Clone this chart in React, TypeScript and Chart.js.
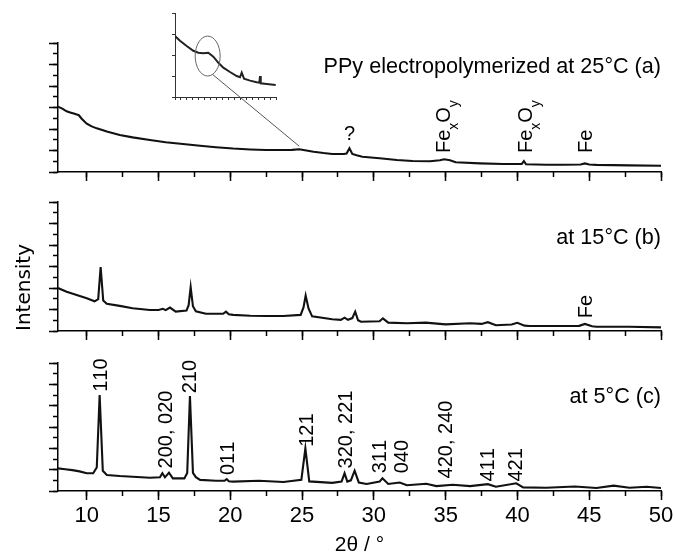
import React, { useEffect, useRef } from 'react';
import { Chart, registerables } from 'chart.js';

Chart.register(...registerables);

const W = 675;
const H = 558;
const SANS = '"Liberation Sans", Arial, Helvetica, sans-serif';

// ---------- axes ----------
const xMin = 8;
const xMax = 50;
const xMajorStep = 5;
const xMinorStep = 2.5;
const yMin = 0;
const yMax = 6;
const xTitle = '2θ / °';
const yTitle = 'Intensity';

// ---------- panel (a) : 25 °C ----------
const thetaA = [8.0, 8.3, 8.6, 8.9, 9.1, 9.3, 9.45, 9.65, 10.0, 10.35, 10.7, 11.4, 12.3, 13.2, 14.4, 15.5, 16.7, 17.9, 19.0, 20.2, 21.4, 22.5, 23.7, 24.3, 24.8, 25.3, 25.8, 26.5, 27.1, 27.9, 28.1, 28.3, 28.5, 28.8, 29.2, 30.4, 31.6, 32.7, 33.9, 34.6, 34.9, 35.3, 35.7, 37.4, 39.0, 40.3, 40.45, 40.6, 42.0, 43.2, 44.4, 44.7, 45.0, 45.5, 47.8, 50.0];
const intA = [3.04, 2.95, 2.82, 2.76, 2.72, 2.68, 2.64, 2.48, 2.25, 2.12, 2.03, 1.88, 1.72, 1.61, 1.49, 1.38, 1.30, 1.22, 1.15, 1.09, 1.05, 1.02, 1.02, 1.03, 1.06, 1.0, 0.94, 0.88, 0.84, 0.84, 0.86, 1.10, 0.84, 0.78, 0.71, 0.64, 0.56, 0.51, 0.50, 0.55, 0.59, 0.55, 0.45, 0.40, 0.37, 0.37, 0.51, 0.36, 0.34, 0.34, 0.35, 0.40, 0.35, 0.33, 0.31, 0.29];
const titleA = 'PPy electropolymerized at 25°C (a)';
const titleAInt = 4.9;
const peakTextA = ['?', 'Fe_xO_y', 'Fe_xO_y', 'Fe'];
const peakThetaA = [28.3, 34.82, 40.5, 44.7];
const peakIntA = [1.49, 0.88, 0.88, 0.88];
const peakRotA = [false, true, true, true];

// ---------- panel (b) : 15 °C ----------
const thetaB = [8.0, 8.6, 9.3, 10.0, 10.55, 10.8, 10.97, 11.15, 11.4, 12.3, 13.2, 14.4, 15.0, 15.3, 15.5, 15.8, 16.2, 16.95, 17.1, 17.24, 17.4, 17.6, 18.3, 19.5, 19.7, 19.9, 20.2, 21.4, 22.5, 23.7, 24.9, 25.1, 25.25, 25.45, 25.7, 27.1, 27.7, 27.96, 28.2, 28.5, 28.7, 28.9, 29.1, 30.4, 30.63, 31.0, 32.3, 33.6, 35.0, 36.7, 37.5, 37.94, 38.5, 39.6, 39.99, 40.5, 40.85, 43.2, 44.3, 44.7, 45.2, 45.5, 47.8, 50.0];
const intB = [2.0, 1.83, 1.68, 1.52, 1.38, 1.48, 2.97, 1.42, 1.27, 1.17, 1.06, 0.98, 0.98, 1.03, 0.97, 1.09, 0.90, 0.95, 1.2, 2.04, 1.15, 0.92, 0.80, 0.80, 0.90, 0.78, 0.75, 0.71, 0.70, 0.70, 0.75, 1.1, 1.65, 1.05, 0.68, 0.55, 0.52, 0.62, 0.52, 0.6, 0.9, 0.5, 0.43, 0.45, 0.59, 0.39, 0.36, 0.39, 0.31, 0.36, 0.33, 0.41, 0.27, 0.3, 0.38, 0.25, 0.23, 0.23, 0.24, 0.33, 0.22, 0.2, 0.2, 0.17];
const titleB = 'at 15°C (b)';
const titleBInt = 4.32;
const peakTextB = ['Fe'];
const peakThetaB = [44.7];
const peakIntB = [0.59];
const peakRotB = [true];

// ---------- panel (c) : 5 °C ----------
const thetaC = [8.0, 8.5, 9.0, 9.5, 10.0, 10.45, 10.7, 10.9, 11.12, 11.4, 12.3, 13.2, 14.4, 15.1, 15.27, 15.45, 15.73, 16.0, 16.8, 17.0, 17.19, 17.4, 17.6, 17.9, 19.0, 19.6, 19.75, 19.9, 20.2, 22.0, 23.7, 24.95, 25.23, 25.5, 27.1, 27.75, 27.96, 28.15, 28.4, 28.66, 28.95, 29.5, 30.4, 30.6, 31.0, 31.8, 32.3, 33.65, 34.35, 35.5, 36.7, 37.94, 38.5, 39.92, 40.4, 42.0, 44.0, 45.5, 46.7, 47.8, 49.0, 50.0];
const intC = [1.06, 1.02, 0.98, 0.92, 0.83, 0.83, 1.1, 4.5, 0.95, 0.75, 0.70, 0.67, 0.62, 0.64, 0.83, 0.64, 0.86, 0.59, 0.59, 0.85, 4.45, 0.85, 0.65, 0.52, 0.48, 0.48, 0.56, 0.46, 0.44, 0.48, 0.42, 0.52, 2.0, 0.45, 0.38, 0.44, 0.83, 0.44, 0.5, 0.95, 0.4, 0.33, 0.44, 0.6, 0.33, 0.4, 0.27, 0.34, 0.23, 0.29, 0.23, 0.32, 0.2, 0.36, 0.17, 0.15, 0.21, 0.14, 0.25, 0.15, 0.2, 0.14];
const titleC = 'at 5°C (c)';
const titleCInt = 4.42;
const peakTextC = ['110', '200, 020', '210', '011', '121', '320, 221', '311', '040', '420, 240', '411', '421'];
const peakThetaC = [10.9, 15.43, 17.1, 19.75, 25.23, 27.97, 30.33, 31.87, 34.93, 37.89, 39.8];
const peakIntC = [4.65, 1.06, 4.58, 0.75, 2.07, 1.06, 0.83, 0.83, 0.59, 0.44, 0.44];
const peakRotC = [true, true, true, true, true, true, true, true, true, true, true];

// ---------- inset (zoom of panel a) ----------
const insetThetaMin = 17;
const insetThetaMax = 34;
const insetIntMax = 4;
const insetTheta = [17.0, 17.84, 18.97, 20.08, 20.93, 21.77, 22.61, 23.45, 24.3, 25.13, 26.26, 27.38, 27.94, 28.23, 28.62, 29.63, 30.75, 31.2, 31.31, 31.43, 32.44, 33.95];
const insetInt = [2.90, 2.68, 2.43, 2.2, 2.11, 2.08, 2.11, 1.92, 1.63, 1.4, 1.19, 1.0, 0.94, 1.16, 0.87, 0.78, 0.7, 0.68, 1.0, 0.65, 0.62, 0.57];
const ellipseTheta = 22.5;
const ellipseInt = 1.95;
const ellipseHalfTheta = 2.1;
const ellipseHalfInt = 0.95;
const zoomTargetTheta = 24.8;
const zoomTargetInt = 1.2;

// ---------- layout (pixels) ----------
const PLOT_LEFT = 58;
const PLOT_RIGHT = 661;
const PANEL_A = { top: 43, bottom: 172 };
const PANEL_B = { top: 202, bottom: 331 };
const PANEL_C = { top: 363, bottom: 491 };
const INSET = { left: 175, right: 276, top: 13, bottom: 97 };
const LABEL_SIZE = 20;
const TITLE_SIZE = 21.6;

function drawRich(ctx: CanvasRenderingContext2D, text: string, x: number, y: number, size: number) {
  let cx = x;
  for (let i = 0; i < text.length; i++) {
    let ch = text[i];
    let sub = false;
    if (ch === '_' && i + 1 < text.length) {
      sub = true;
      ch = text[++i];
    }
    const s = sub ? Math.round(size * 0.68) : size;
    ctx.font = `${s}px ${SANS}`;
    ctx.textAlign = 'left';
    ctx.textBaseline = 'alphabetic';
    ctx.fillText(ch, cx, y + (sub ? size * 0.4 : 0));
    cx += ctx.measureText(ch).width;
  }
}

function annotations(title: string, titleInt: number, texts: string[], thetas: number[], ints: number[], rots: boolean[]) {
  return {
    id: 'annotations',
    afterDatasetsDraw(chart: any) {
      const { ctx, chartArea, scales } = chart;
      const sx = scales.x;
      const sy = scales.y;
      ctx.save();
      ctx.fillStyle = '#000';
      ctx.font = `${TITLE_SIZE}px ${SANS}`;
      ctx.textAlign = 'right';
      ctx.textBaseline = 'middle';
      ctx.fillText(title, chartArea.right, sy.getPixelForValue(titleInt));
      texts.forEach((t, i) => {
        const px = sx.getPixelForValue(thetas[i]);
        const py = sy.getPixelForValue(ints[i]);
        if (rots[i]) {
          ctx.save();
          ctx.translate(px, py);
          ctx.rotate(-Math.PI / 2);
          drawRich(ctx, t, 0, LABEL_SIZE * 0.36, LABEL_SIZE);
          ctx.restore();
        } else {
          ctx.font = `${LABEL_SIZE}px ${SANS}`;
          ctx.textAlign = 'center';
          ctx.textBaseline = 'alphabetic';
          ctx.fillText(t, px, py);
        }
      });
      ctx.restore();
    },
  };
}

function panelConfig(xs: number[], ys: number[], area: { top: number; bottom: number }, showX: boolean, showYTitle: boolean, plugin: any): any {
  return {
    type: 'line',
    data: {
      datasets: [
        {
          data: xs.map((x, i) => ({ x, y: ys[i] })),
          borderColor: '#111',
          borderWidth: 2.1,
          pointRadius: 0,
          tension: 0,
          fill: false,
        },
      ],
    },
    options: {
      animation: false,
      responsive: false,
      events: [],
      layout: { padding: { top: area.top, right: W - PLOT_RIGHT, bottom: 0, left: 0 } },
      plugins: { legend: { display: false }, tooltip: { enabled: false }, title: { display: false } },
      scales: {
        x: {
          type: 'linear',
          position: 'bottom',
          weight: 1,
          min: xMin,
          max: xMax,
          afterFit: (s: any) => {
            s.height = H - area.bottom;
            s.paddingLeft = 0;
            s.paddingRight = 0;
          },
          ticks: {
            stepSize: xMajorStep,
            includeBounds: false,
            display: showX,
            autoSkip: false,
            maxRotation: 0,
            padding: 3,
            color: '#000',
            font: { family: SANS, size: 22 },
          },
          grid: { drawOnChartArea: false, drawTicks: true, tickLength: 9, tickWidth: 1.5, tickColor: '#000', color: '#000' },
          border: { display: true, color: '#000', width: 1.5 },
          title: showX
            ? { display: true, text: xTitle, color: '#000', font: { family: SANS, size: 21 }, padding: { top: 0, bottom: 0 } }
            : { display: false },
        },
        xMinor: {
          type: 'linear',
          position: 'bottom',
          weight: 0,
          min: xMin,
          max: xMax,
          afterFit: (s: any) => {
            s.height = 0;
            s.paddingLeft = 0;
            s.paddingRight = 0;
          },
          ticks: { stepSize: xMinorStep, includeBounds: false, display: false },
          grid: { drawOnChartArea: false, drawTicks: true, tickLength: 5, tickWidth: 1.5, tickColor: '#000', color: '#000' },
          border: { display: false },
        },
        y: {
          type: 'linear',
          position: 'left',
          weight: 1,
          min: yMin,
          max: yMax,
          afterFit: (s: any) => {
            s.width = PLOT_LEFT;
          },
          ticks: { stepSize: 1, display: false },
          grid: { drawOnChartArea: false, drawTicks: true, tickLength: 9, tickWidth: 1.5, tickColor: '#000', color: '#000' },
          border: { display: true, color: '#000', width: 1.5 },
          title: showYTitle
            ? { display: true, text: yTitle, align: 'start', color: '#000', font: { family: '"DejaVu Sans", sans-serif', size: 20 }, padding: { top: 13, bottom: 0 } }
            : { display: false },
        },
        yMinor: {
          type: 'linear',
          position: 'left',
          weight: 0,
          min: yMin,
          max: yMax,
          afterFit: (s: any) => {
            s.width = 0;
          },
          ticks: { stepSize: 0.5, display: false },
          grid: { drawOnChartArea: false, drawTicks: true, tickLength: 5, tickWidth: 1.5, tickColor: '#000', color: '#000' },
          border: { display: false },
        },
      },
    },
    plugins: [plugin],
  };
}

function insetDecor(getMain: () => any) {
  return {
    id: 'insetDecor',
    afterDatasetsDraw(chart: any) {
      const { ctx, scales } = chart;
      const cx = scales.x.getPixelForValue(ellipseTheta);
      const cy = scales.y.getPixelForValue(ellipseInt);
      const rx = Math.abs(scales.x.getPixelForValue(ellipseTheta + ellipseHalfTheta) - cx);
      const ry = Math.abs(scales.y.getPixelForValue(ellipseInt + ellipseHalfInt) - cy);
      ctx.save();
      ctx.strokeStyle = '#666';
      ctx.lineWidth = 1;
      ctx.beginPath();
      ctx.ellipse(cx, cy, rx, ry, 0, 0, Math.PI * 2);
      ctx.stroke();
      const main = getMain();
      if (main) {
        const a = (67 * Math.PI) / 180;
        const sx = cx + rx * Math.cos(a);
        const sy = cy + ry * Math.sin(a);
        const ex = main.scales.x.getPixelForValue(zoomTargetTheta);
        const ey = main.scales.y.getPixelForValue(zoomTargetInt);
        ctx.strokeStyle = '#555';
        ctx.beginPath();
        ctx.moveTo(sx, sy);
        ctx.lineTo(ex, ey);
        ctx.stroke();
      }
      ctx.restore();
    },
  };
}

function insetConfig(plugin: any): any {
  return {
    type: 'line',
    data: {
      datasets: [
        {
          data: insetTheta.map((x, i) => ({ x, y: insetInt[i] })),
          borderColor: '#222',
          borderWidth: 2,
          pointRadius: 0,
          tension: 0,
          fill: false,
        },
      ],
    },
    options: {
      animation: false,
      responsive: false,
      events: [],
      layout: { padding: { top: INSET.top, right: W - INSET.right, bottom: 0, left: 0 } },
      plugins: { legend: { display: false }, tooltip: { enabled: false } },
      scales: {
        x: {
          type: 'linear',
          position: 'bottom',
          min: insetThetaMin,
          max: insetThetaMax,
          afterFit: (s: any) => {
            s.height = H - INSET.bottom;
            s.paddingLeft = 0;
            s.paddingRight = 0;
          },
          ticks: { stepSize: 1, display: false },
          grid: { drawOnChartArea: false, drawTicks: true, tickLength: 3, tickWidth: 1, tickColor: '#333', color: '#333' },
          border: { display: true, color: '#333', width: 1 },
        },
        y: {
          type: 'linear',
          position: 'left',
          min: 0,
          max: insetIntMax,
          afterFit: (s: any) => {
            s.width = INSET.left;
          },
          ticks: { stepSize: 1, display: false },
          grid: { drawOnChartArea: false, drawTicks: true, tickLength: 3, tickWidth: 1, tickColor: '#333', color: '#333' },
          border: { display: true, color: '#333', width: 1 },
        },
      },
    },
    plugins: [plugin],
  };
}

export default function App() {
  const refA = useRef<HTMLCanvasElement>(null);
  const refB = useRef<HTMLCanvasElement>(null);
  const refC = useRef<HTMLCanvasElement>(null);
  const refI = useRef<HTMLCanvasElement>(null);

  useEffect(() => {
    document.body.style.margin = '0';
    const charts: any[] = [];
    const chartA = new Chart(
      refA.current as HTMLCanvasElement,
      panelConfig(thetaA, intA, PANEL_A, false, false, annotations(titleA, titleAInt, peakTextA, peakThetaA, peakIntA, peakRotA))
    );
    charts.push(chartA);
    charts.push(
      new Chart(
        refB.current as HTMLCanvasElement,
        panelConfig(thetaB, intB, PANEL_B, false, true, annotations(titleB, titleBInt, peakTextB, peakThetaB, peakIntB, peakRotB))
      )
    );
    charts.push(
      new Chart(
        refC.current as HTMLCanvasElement,
        panelConfig(thetaC, intC, PANEL_C, true, false, annotations(titleC, titleCInt, peakTextC, peakThetaC, peakIntC, peakRotC))
      )
    );
    charts.push(new Chart(refI.current as HTMLCanvasElement, insetConfig(insetDecor(() => chartA))));
    return () => {
      charts.forEach((c) => c.destroy());
    };
  }, []);

  const cs: React.CSSProperties = { position: 'absolute', left: 0, top: 0, width: W, height: H };
  return (
    <div style={{ position: 'absolute', left: 0, top: 0, width: W, height: H, background: '#fff' }}>
      <canvas ref={refA} width={W} height={H} style={cs} />
      <canvas ref={refB} width={W} height={H} style={cs} />
      <canvas ref={refC} width={W} height={H} style={cs} />
      <canvas ref={refI} width={W} height={H} style={cs} />
    </div>
  );
}
